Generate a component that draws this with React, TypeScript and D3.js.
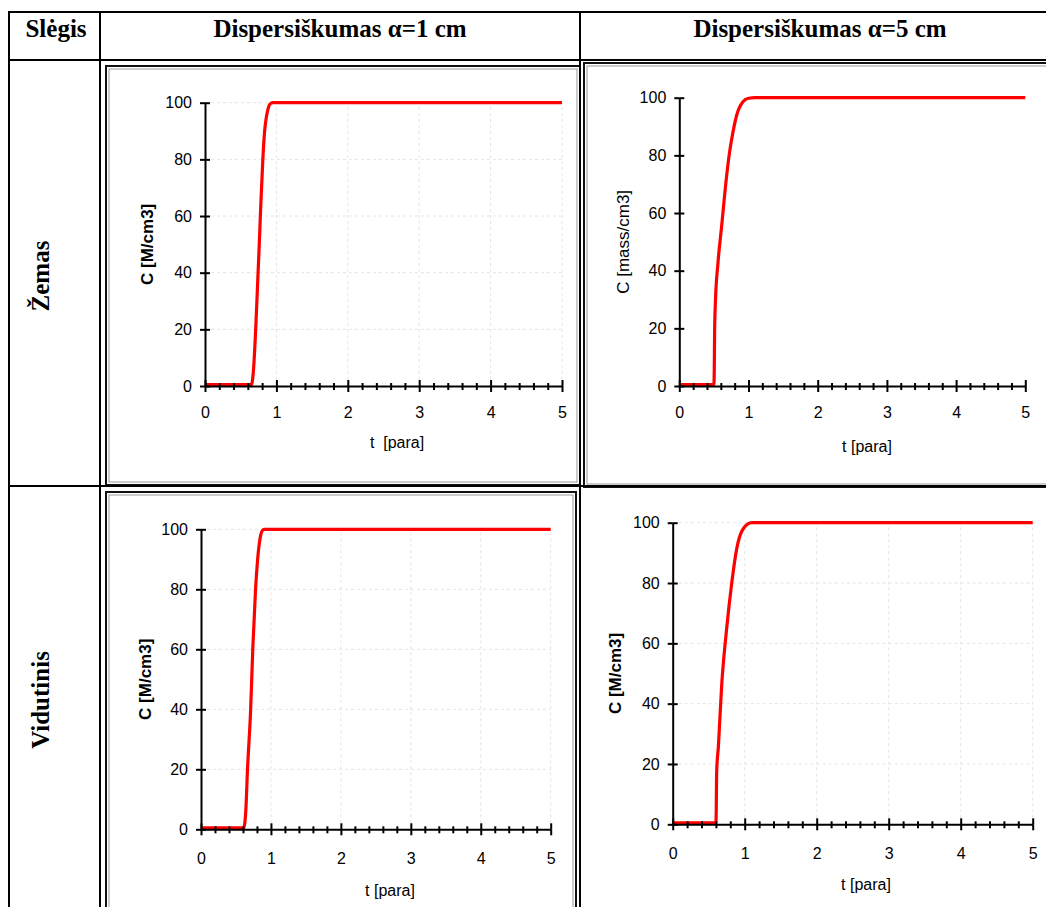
import React, { useRef, useEffect } from 'react';
import * as d3 from 'd3';

const cornerLabel = 'Slėgis';
const columnLabels = ['Dispersiškumas α=1 cm', 'Dispersiškumas α=5 cm'];
const rowLabels = ['Žemas', 'Vidutinis'];

const xTickValues = [0, 1, 2, 3, 4, 5];
const xMinorTicks = [0.2, 0.4, 0.6, 0.8, 1.2, 1.4, 1.6, 1.8, 2.2, 2.4, 2.6, 2.8, 3.2, 3.4, 3.6, 3.8, 4.2, 4.4, 4.6, 4.8];
const yTickValues = [0, 20, 40, 60, 80, 100];

// Žemas, alpha = 1 cm
const lowNarrowT = [0, 0.65, 0.68, 0.71, 0.74, 0.76, 0.78, 0.81, 0.835, 0.86, 0.88, 0.91, 0.95, 5];
const lowNarrowC = [0.5, 0.5, 6, 20, 38, 50, 63, 80, 90, 95, 97.5, 99.5, 100, 100];
// Žemas, alpha = 5 cm
const lowWideT = [0, 0.5, 0.505, 0.51, 0.52, 0.56, 0.61, 0.68, 0.72, 0.76, 0.83, 0.92, 1.0, 1.1, 5];
const lowWideC = [0.5, 0.5, 5, 18, 28, 43, 55, 72, 80, 86, 94, 98.6, 99.8, 100, 100];
// Vidutinis, alpha = 1 cm
const midNarrowT = [0, 0.61, 0.64, 0.665, 0.71, 0.74, 0.78, 0.81, 0.845, 0.87, 0.9, 5];
const midNarrowC = [0.5, 0.5, 6, 20, 40, 60, 80, 90, 97, 99.3, 100, 100];
// Vidutinis, alpha = 5 cm
const midWideT = [0, 0.6, 0.605, 0.61, 0.635, 0.68, 0.75, 0.82, 0.89, 0.98, 1.1, 5];
const midWideC = [0.5, 0.5, 5, 17, 26, 46, 65, 80, 91.5, 98, 100, 100];

const W = 1046;
const H = 907;
const sans = "'Liberation Sans', Arial, sans-serif";
const serif = "'Liberation Serif', 'Times New Roman', serif";

const panels = [
  { t: lowNarrowT, c: lowNarrowC, yTitle: 'C [M/cm3]', xTitle: 't  [para]', bold: true, grid: true,
    left: 205, right: 562, bottom: 386, top: 102.7, xPad: 15, xTitleX: 397, xTitleY: 448, yTitleX: 147,
    frame: [106, 66, 580, 485] },
  { t: lowWideT, c: lowWideC, yTitle: 'C [mass/cm3]', xTitle: 't [para]', bold: false, grid: false,
    left: 679.3, right: 1025.3, bottom: 386, top: 97.7, xPad: 15, xTitleX: 867, xTitleY: 452, yTitleX: 623,
    frame: [584, 63, 1052, 487] },
  { t: midNarrowT, c: midNarrowC, yTitle: 'C [M/cm3]', xTitle: 't [para]', bold: true, grid: true,
    left: 201, right: 550.7, bottom: 829.3, top: 529.3, xPad: 17, xTitleX: 390, xTitleY: 896, yTitleX: 145,
    frame: [106, 492, 576, 930] },
  { t: midWideT, c: midWideC, yTitle: 'C [M/cm3]', xTitle: 't [para]', bold: true, grid: true,
    left: 672.7, right: 1032.7, bottom: 824.3, top: 522.7, xPad: 17, xTitleX: 866, xTitleY: 890, yTitleX: 615,
    frame: null },
];

const App = () => {
  const svgRef = useRef<SVGSVGElement>(null);

  useEffect(() => {
    const svg = d3.select(svgRef.current);
    svg.selectAll('*').remove();

    svg.append('rect').attr('width', W).attr('height', H).attr('fill', '#fff');

    panels.forEach(p => {
      const x = d3.scaleLinear().domain([0, 5]).range([p.left, p.right]);
      const y = d3.scaleLinear().domain([0, 100]).range([p.bottom, p.top]);
      const g = svg.append('g');

      if (p.frame) {
        const [x0, y0, x1, y1] = p.frame;
        g.append('rect').attr('x', x0).attr('y', y0).attr('width', x1 - x0).attr('height', y1 - y0)
          .attr('fill', 'none').attr('stroke', '#111').attr('stroke-width', 2);
        g.append('rect').attr('x', x0 + 3).attr('y', y0 + 3).attr('width', x1 - x0 - 6).attr('height', y1 - y0 - 6)
          .attr('fill', 'none').attr('stroke', '#999').attr('stroke-width', 1);
      }

      if (p.grid) {
        g.selectAll('.vgrid').data(xTickValues.slice(1)).join('line')
          .attr('x1', d => x(d)).attr('x2', d => x(d)).attr('y1', p.bottom).attr('y2', p.top)
          .attr('stroke', '#e4e4e4').attr('stroke-dasharray', '3,3');
        g.selectAll('.hgrid').data(yTickValues.slice(1)).join('line')
          .attr('x1', p.left).attr('x2', p.right).attr('y1', d => y(d)).attr('y2', d => y(d))
          .attr('stroke', '#e4e4e4').attr('stroke-dasharray', '3,3');
      }

      const pts = p.t.map((t, i) => [t, p.c[i]] as [number, number]);
      g.append('path').datum(pts)
        .attr('d', d3.line().x(d => x(d[0])).y(d => y(d[1])).curve(d3.curveMonotoneX))
        .attr('fill', 'none').attr('stroke', '#ff0000').attr('stroke-width', 3.2)
        .attr('stroke-linejoin', 'round');

      // x axis: labelled major ticks, crossing ticks, minor ticks
      const gx = g.append('g').attr('transform', `translate(0,${p.bottom})`);
      gx.call(d3.axisBottom(x).tickValues(xTickValues).tickSize(6).tickSizeOuter(0)
        .tickPadding(p.xPad).tickFormat(d3.format('d')));
      gx.append('g').call(d3.axisTop(x).tickValues(xTickValues).tickSize(6).tickFormat(() => ''))
        .call(a => a.select('.domain').remove());
      gx.append('g').call(d3.axisBottom(x).tickValues(xMinorTicks).tickSize(4).tickFormat(() => ''))
        .call(a => a.select('.domain').remove());
      gx.append('g').call(d3.axisTop(x).tickValues(xMinorTicks).tickSize(3).tickFormat(() => ''))
        .call(a => a.select('.domain').remove());

      // y axis with crossing ticks
      const gy = g.append('g').attr('transform', `translate(${p.left},0)`);
      gy.call(d3.axisLeft(y).tickValues(yTickValues).tickSize(5).tickSizeOuter(0).tickPadding(8));
      gy.append('g').call(d3.axisRight(y).tickValues(yTickValues).tickSize(5).tickFormat(() => ''))
        .call(a => a.select('.domain').remove());

      [gx, gy].forEach(a => {
        a.selectAll('.domain').attr('stroke', '#000').attr('stroke-width', 2);
        a.selectAll('line').attr('stroke', '#000').attr('stroke-width', 2);
        a.selectAll('text').attr('font-family', sans).attr('font-size', 16).attr('fill', '#000');
      });
      gx.attr('font-family', null).attr('font-size', null);
      gy.attr('font-family', null).attr('font-size', null);

      g.append('text').attr('x', p.xTitleX).attr('y', p.xTitleY)
        .attr('text-anchor', 'middle').attr('font-family', sans).attr('font-size', 16)
        .style('white-space', 'pre').text(p.xTitle);

      const yMid = (p.top + p.bottom) / 2;
      g.append('text').attr('transform', `translate(${p.yTitleX},${yMid}) rotate(-90)`)
        .attr('text-anchor', 'middle').attr('dominant-baseline', 'central')
        .attr('font-family', sans).attr('font-size', 17).attr('font-weight', p.bold ? 'bold' : 'normal')
        .text(p.yTitle);
    });

    // table grid
    const table = svg.append('g').attr('stroke', '#000').attr('stroke-width', 2);
    [12, 60, 486].forEach(yy => {
      table.append('line').attr('x1', 9).attr('x2', W).attr('y1', yy).attr('y2', yy);
    });
    [9, 100, 580].forEach(xx => {
      table.append('line').attr('x1', xx).attr('x2', xx).attr('y1', 11).attr('y2', H);
    });

    const head = svg.append('g').attr('font-family', serif).attr('font-weight', 'bold').attr('font-size', 25);
    head.append('text').attr('x', 56).attr('y', 37).attr('text-anchor', 'middle').text(cornerLabel);
    [340, 820].forEach((cx, i) => {
      head.append('text').attr('x', cx).attr('y', 37).attr('text-anchor', 'middle').text(columnLabels[i]);
    });
    [276, 700].forEach((cy, i) => {
      head.append('text').attr('transform', `translate(40,${cy}) rotate(-90)`)
        .attr('text-anchor', 'middle').attr('dominant-baseline', 'central').text(rowLabels[i]);
    });
  }, []);

  return (
    <svg ref={svgRef} width={W} height={H} style={{ position: 'absolute', left: 0, top: 0 }}>
      {/* drawn in useEffect */}
    </svg>
  );
};

export default App;
